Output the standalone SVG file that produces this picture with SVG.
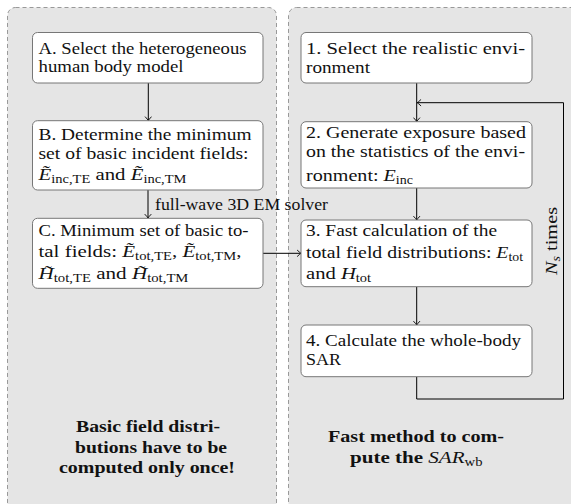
<svg xmlns="http://www.w3.org/2000/svg" width="571" height="504" viewBox="0 0 571 504">
<defs>
<style>
.panel{fill:#e5e5e5;stroke:#999;stroke-width:1;stroke-dasharray:4 3}
.box rect{fill:#fff;stroke:#777;stroke-width:1}
text{font-family:"Liberation Serif","Times New Roman",serif;font-size:16.5px;fill:#111}
.it{font-style:italic}
.sub{font-size:11.5px}
.b{font-weight:bold}
.conn{fill:none;stroke:#000;stroke-width:1}
.ah{fill:none;stroke:#000;stroke-width:0.9;stroke-linecap:round}
</style>
<marker id="ah" viewBox="-5 -4 6 8" refX="0" refY="0" markerWidth="6" markerHeight="8" orient="auto" markerUnits="userSpaceOnUse">
<path class="ah" d="M-3.6,-3 Q-1,-0.6 0,0 Q-1,0.6 -3.6,3"/>
</marker>
</defs>

<g id="panel-left">
<rect class="panel" x="7.5" y="7.5" width="269" height="520" rx="8"/>
<text class="b" x="76" y="432" textLength="144" lengthAdjust="spacingAndGlyphs">Basic field distri-</text>
<text class="b" x="75" y="452.5" textLength="152" lengthAdjust="spacingAndGlyphs">butions have to be</text>
<text class="b" x="59" y="473" textLength="176" lengthAdjust="spacingAndGlyphs">computed only once!</text>
</g>

<g id="panel-right">
<rect class="panel" x="288.5" y="7.5" width="300" height="520" rx="8"/>
<text class="b" x="328" y="442" textLength="176" lengthAdjust="spacingAndGlyphs">Fast method to com-</text>
<text class="b" x="350" y="463" textLength="132.5" lengthAdjust="spacingAndGlyphs">pute the <tspan class="it" font-weight="normal">SAR</tspan><tspan class="sub" font-weight="normal" dy="3">wb</tspan></text>
</g>

<g id="connectors">
<path class="conn" d="M148.3 83 V120.5" marker-end="url(#ah)"/>
<path class="conn" d="M148 190 V218" marker-end="url(#ah)"/>
<path class="conn" d="M416.7 83 V121.5" marker-end="url(#ah)"/>
<path class="conn" d="M416.7 188 V220" marker-end="url(#ah)"/>
<path class="conn" d="M416.7 287 V325" marker-end="url(#ah)"/>
<path class="conn" d="M416.7 377 V399 H563.5 V102.7 H417.2" marker-end="url(#ah)"/>
<path class="conn" d="M263 253.3 H301" marker-end="url(#ah)"/>
<text x="155" y="209.5" textLength="173" lengthAdjust="spacingAndGlyphs">full-wave 3D EM solver</text>
<text transform="translate(557,241) rotate(-90)" text-anchor="middle" textLength="68" lengthAdjust="spacingAndGlyphs"><tspan class="it">N</tspan><tspan class="sub it" dy="3">s</tspan><tspan dy="-3"> times</tspan></text>
</g>

<g id="nodeA" class="box">
<rect x="32.5" y="32.5" width="230.5" height="50.5" rx="5"/>
<text x="38.5" y="53.5" textLength="208" lengthAdjust="spacingAndGlyphs">A. Select the heterogeneous</text>
<text x="38.5" y="72" textLength="145" lengthAdjust="spacingAndGlyphs">human body model</text>
</g>

<g id="nodeB" class="box">
<rect x="32.5" y="120.7" width="230.5" height="69.3" rx="5"/>
<text x="38.5" y="140" textLength="213" lengthAdjust="spacingAndGlyphs">B. Determine the minimum</text>
<text x="38.5" y="159" textLength="210" lengthAdjust="spacingAndGlyphs">set of basic incident fields:</text>
<text x="38.5" y="180" textLength="148" lengthAdjust="spacingAndGlyphs"><tspan class="it">Ẽ</tspan><tspan class="sub" dy="3">inc,TE</tspan><tspan dy="-3"> and </tspan><tspan class="it">Ẽ</tspan><tspan class="sub" dy="3">inc,TM</tspan></text>
</g>

<g id="nodeC" class="box">
<rect x="32.5" y="218.3" width="230.5" height="70" rx="5"/>
<text x="38.5" y="235.7" textLength="210" lengthAdjust="spacingAndGlyphs">C. Minimum set of basic to-</text>
<text x="38.5" y="256.7" textLength="203" lengthAdjust="spacingAndGlyphs">tal fields: <tspan class="it">Ẽ</tspan><tspan class="sub" dy="3">tot,TE</tspan><tspan dy="-3">, </tspan><tspan class="it">Ẽ</tspan><tspan class="sub" dy="3">tot,TM</tspan><tspan dy="-3">,</tspan></text>
<text transform="translate(38.5,279.3) scale(1.28,1)"><tspan class="it">H̃</tspan><tspan class="sub" dy="3">tot,TE</tspan><tspan dy="-3"> and </tspan><tspan class="it">H̃</tspan><tspan class="sub" dy="3">tot,TM</tspan></text>
</g>

<g id="node1" class="box">
<rect x="301" y="32.5" width="231" height="50.5" rx="5"/>
<text x="306" y="54.3" textLength="219" lengthAdjust="spacingAndGlyphs">1. Select the realistic envi-</text>
<text x="306" y="72.7" textLength="64" lengthAdjust="spacingAndGlyphs">ronment</text>
</g>

<g id="node2" class="box">
<rect x="301" y="121.7" width="231" height="66.3" rx="5"/>
<text x="306" y="137.7" textLength="220" lengthAdjust="spacingAndGlyphs">2. Generate exposure based</text>
<text x="306" y="156.7" textLength="219" lengthAdjust="spacingAndGlyphs">on the statistics of the envi-</text>
<text x="306" y="180.5" textLength="107" lengthAdjust="spacingAndGlyphs">ronment: <tspan class="it">E</tspan><tspan class="sub" dy="3">inc</tspan></text>
</g>

<g id="node3" class="box">
<rect x="301" y="220" width="231" height="66.7" rx="5"/>
<text x="306" y="236" textLength="191" lengthAdjust="spacingAndGlyphs">3. Fast calculation of the</text>
<text x="306" y="258.3" textLength="217" lengthAdjust="spacingAndGlyphs">total field distributions: <tspan class="it">E</tspan><tspan class="sub" dy="3">tot</tspan></text>
<text x="306" y="279" textLength="65" lengthAdjust="spacingAndGlyphs">and <tspan class="it">H</tspan><tspan class="sub" dy="3">tot</tspan></text>
</g>

<g id="node4" class="box">
<rect x="301" y="325" width="231" height="51.7" rx="5"/>
<text x="306" y="345.7" textLength="215" lengthAdjust="spacingAndGlyphs">4. Calculate the whole-body</text>
<text x="306" y="365" textLength="35" lengthAdjust="spacingAndGlyphs">SAR</text>
</g>
</svg>
